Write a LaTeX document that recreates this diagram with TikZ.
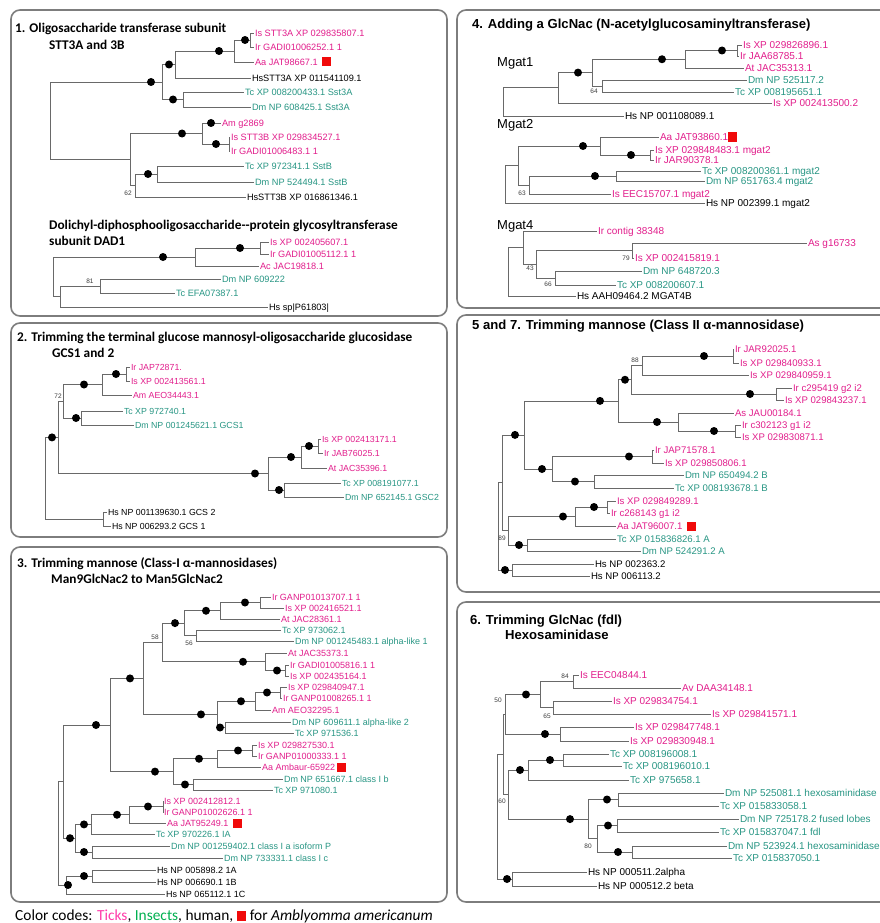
\documentclass[tikz,border=0pt]{standalone}
\usepackage{fontspec}
\setmainfont{Liberation Sans}
\newfontfamily\calib{Carlito}
\definecolor{tick}{RGB}{226,30,140}
\definecolor{insect}{RGB}{40,150,132}
\definecolor{brc}{RGB}{105,105,105}
\definecolor{panc}{RGB}{125,125,125}
\definecolor{sqred}{RGB}{240,10,10}
\definecolor{legpink}{RGB}{255,60,170}
\definecolor{leggreen}{RGB}{0,176,80}
\definecolor{bsc}{RGB}{60,60,60}
\newcommand\mylf[5]{\node[#1] (#2) at ({#3-1.5},#4) {#5};}
\newcommand\myed[2]{\draw[brl] (#1) |- (#2);}
\newcommand\mydt[2]{\fill[black] (#1,#2) circle (4pt);}
\newcommand\mycn[3]{\coordinate (#1) at (#2,#3);}
\tikzset{
 brl/.style={draw=brc, line width=0.8pt},
 lab/.style={anchor=west, inner sep=0pt, outer xsep=1.5pt, outer ysep=0pt, text height=6.6pt, text depth=0pt, font=\fontsize{9}{10}\selectfont},
 tk/.style={lab, text=tick},
 ins/.style={lab, text=insect},
 hum/.style={lab, text=black},
 bs/.style={inner sep=0pt, text=bsc, font=\fontsize{6.5}{7}\selectfont},
 panel/.style={draw=panc, line width=1.6pt, rounded corners=9pt},
 ttlA/.style={anchor=west, inner sep=0pt, text height=8.5pt, text depth=0pt, font=\calib\bfseries\fontsize{13.3}{15}\selectfont},
 ttlB/.style={anchor=west, inner sep=0pt, text height=9.2pt, text depth=0pt, font=\bfseries\fontsize{13.1}{15}\selectfont},
 mg/.style={anchor=west, inner sep=0pt, text height=9.2pt, text depth=0pt, font=\fontsize{13}{15}\selectfont},
 sq/.style={fill=sqred, minimum size=9pt, inner sep=0pt}
}
\begin{document}
\begin{tikzpicture}[x=1pt,y=-1pt]
\useasboundingbox (0,0) rectangle (880,923);
\clip (0,0) rectangle (880,923);
\fill[white] (0,0) rectangle (880,923);

% ================= Panel 1 =================
\draw[panel] (11,10) rectangle (447,316);
\node[ttlA] (t1a) at (15,28) {1. Oligosaccharide transferase subunit};
\node[ttlA] (t1b) at (49,45) {STT3A and 3B};
\begin{scope}[lab/.append style={font=\fontsize{9.2}{10}\selectfont}]
\mylf{tk}{L1a}{255}{33}{Is STT3A XP 029835807.1}
\mylf{tk}{L1b}{255}{47}{Ir GADI01006252.1 1}
\mylf{tk}{L1c}{255}{62}{Aa JAT98667.1}
\mylf{hum}{L1d}{252}{78}{HsSTT3A XP 011541109.1}
\mylf{ins}{L1e}{245}{92}{Tc XP 008200433.1 Sst3A}
\mylf{ins}{L1f}{252}{107}{Dm NP 608425.1 Sst3A}
\mylf{tk}{L1g}{222}{123}{Am g2869}
\mylf{tk}{L1h}{231}{137}{Is STT3B XP 029834527.1}
\mylf{tk}{L1i}{231}{151}{Ir GADI01006483.1 1}
\mylf{ins}{L1j}{245}{166}{Tc XP 972341.1 SstB}
\mylf{ins}{L1k}{255}{182}{Dm NP 524494.1 SstB}
\mylf{hum}{L1l}{247}{197}{HsSTT3B XP 016861346.1}
\end{scope}
\node[sq] (s1) at (326,62) {};
\mycn{n1a}{250}{40} \mycn{n1b}{234}{51} \mycn{n1c}{175}{64.5} \mycn{n1d}{183}{99.5}
\mycn{n1e}{162}{82} \mycn{n1f}{229}{144} \mycn{n1g}{202}{133.5} \mycn{n1h}{157}{174}
\mycn{n1i}{135}{185.5} \mycn{n1j}{130}{159.5} \mycn{r1}{50}{120.75}
\myed{n1a}{L1a} \myed{n1a}{L1b} \myed{n1b}{n1a} \myed{n1b}{L1c} \myed{n1c}{n1b} \myed{n1c}{L1d}
\myed{n1d}{L1e} \myed{n1d}{L1f} \myed{n1e}{n1c} \myed{n1e}{n1d} \myed{n1f}{L1h} \myed{n1f}{L1i}
\myed{n1g}{L1g} \myed{n1g}{n1f} \myed{n1h}{L1j} \myed{n1h}{L1k} \myed{n1i}{n1h} \myed{n1i}{L1l}
\myed{n1j}{n1g} \myed{n1j}{n1i} \myed{r1}{n1e} \myed{r1}{n1j}
\mydt{245}{40} \mydt{219}{51} \mydt{169}{64.5} \mydt{173}{99.5} \mydt{151}{82}
\mydt{216}{144} \mydt{182}{133.5} \mydt{211}{123} \mydt{148}{174}
\node[bs] (b62) at (128,193) {62};

\node[ttlA] (t1c) at (49,225) {Dolichyl-diphosphooligosaccharide-{}-protein glycosyltransferase};
\node[ttlA] (t1d) at (49,241) {subunit DAD1};
\begin{scope}[lab/.append style={font=\fontsize{9.2}{10}\selectfont}]
\mylf{tk}{L1m}{270}{242}{Is XP 002405607.1}
\mylf{tk}{L1n}{270}{254}{Ir GADI01005112.1 1}
\mylf{tk}{L1o}{260}{266}{Ac JAC19818.1}
\mylf{ins}{L1p}{222}{279}{Dm NP 609222}
\mylf{ins}{L1q}{176}{293}{Tc EFA07387.1}
\mylf{hum}{L1r}{269}{307}{Hs sp|P61803|}
\end{scope}
\mycn{n1k}{260}{248} \mycn{n1l}{195}{257} \mycn{n1m}{100}{286} \mycn{n1n}{60}{296.5} \mycn{r1b}{53}{276.75}
\myed{n1k}{L1m} \myed{n1k}{L1n} \myed{n1l}{n1k} \myed{n1l}{L1o} \myed{n1m}{L1p} \myed{n1m}{L1q}
\myed{n1n}{n1m} \myed{n1n}{L1r} \myed{r1b}{n1l} \myed{r1b}{n1n}
\mydt{240}{248} \mydt{163}{257}
\node[bs] (b81) at (90,281) {81};

% ================= Panel 2 =================
\draw[panel] (11,323) rectangle (447,537);
\node[ttlA] (t2a) at (17,337) {2. Trimming the terminal glucose mannosyl-oligosaccharide glucosidase};
\node[ttlA] (t2b) at (52,353) {GCS1 and 2};
\begin{scope}[lab/.append style={font=\fontsize{8.8}{10}\selectfont}]
\mylf{tk}{L2a}{131}{367}{Ir JAP72871.}
\mylf{tk}{L2b}{131}{381}{Is XP 002413561.1}
\mylf{tk}{L2c}{133}{395}{Am AEO34443.1}
\mylf{ins}{L2d}{124}{411}{Tc XP 972740.1}
\mylf{ins}{L2e}{135}{425}{Dm NP 001245621.1 GCS1}
\mylf{tk}{L2f}{322}{439}{Is XP 002413171.1}
\mylf{tk}{L2g}{324}{453}{Ir JAB76025.1}
\mylf{tk}{L2h}{328}{468}{At JAC35396.1}
\mylf{ins}{L2i}{342}{483}{Tc XP 008191077.1}
\mylf{ins}{L2j}{345}{497}{Dm NP 652145.1 GSC2}
\mylf{hum}{L2k}{108}{512}{Hs NP 001139630.1 GCS 2}
\mylf{hum}{L2l}{112}{526}{Hs NP 006293.2 GCS 1}
\end{scope}
\mycn{n2a}{126}{374} \mycn{n2b}{102}{384.5} \mycn{n2c}{81}{418} \mycn{n2d}{63}{401.25}
\mycn{n2e}{318}{446} \mycn{n2f}{301}{457} \mycn{n2g}{284}{490} \mycn{n2h}{268}{473.5}
\mycn{n2i}{58}{437.4} \mycn{n2j}{103}{519} \mycn{r2}{45}{478.2}
\myed{n2a}{L2a} \myed{n2a}{L2b} \myed{n2b}{n2a} \myed{n2b}{L2c} \myed{n2c}{L2d} \myed{n2c}{L2e}
\myed{n2d}{n2b} \myed{n2d}{n2c} \myed{n2e}{L2f} \myed{n2e}{L2g} \myed{n2f}{n2e} \myed{n2f}{L2h}
\myed{n2g}{L2i} \myed{n2g}{L2j} \myed{n2h}{n2f} \myed{n2h}{n2g} \myed{n2i}{n2d} \myed{n2i}{n2h}
\myed{n2j}{L2k} \myed{n2j}{L2l} \myed{r2}{n2i} \myed{r2}{n2j}
\mydt{116}{374} \mydt{84}{384.5} \mydt{76}{418} \mydt{309}{446} \mydt{291}{457}
\mydt{279}{490} \mydt{255}{473.5} \mydt{52}{437.4}
\node[bs] (b72) at (58,396) {72};

% ================= Panel 3 =================
\draw[panel] (11,547) rectangle (447,902);
\node[ttlA] (t3a) at (17,563) {3. Trimming mannose (Class-I α-mannosidases)};
\node[ttlA] (t3b) at (51,579) {Man9GlcNac2 to Man5GlcNac2};
\begin{scope}[lab/.append style={font=\fontsize{9}{10}\selectfont}]
\mylf{tk}{L3a}{272}{597}{Ir GANP01013707.1 1}
\mylf{tk}{L3b}{285}{608}{Is XP 002416521.1}
\mylf{tk}{L3c}{281}{619}{At JAC28361.1}
\mylf{ins}{L3d}{282}{630}{Tc XP 973062.1}
\mylf{ins}{L3e}{295}{641}{Dm NP 001245483.1 alpha-like 1}
\mylf{tk}{L3f}{288}{653}{At JAC35373.1}
\mylf{tk}{L3g}{290}{665}{Ir GADI01005816.1 1}
\mylf{tk}{L3h}{290}{676}{Is XP 002435164.1}
\mylf{tk}{L3i}{288}{687}{Is XP 029840947.1}
\mylf{tk}{L3j}{283}{698}{Ir GANP01008265.1 1}
\mylf{tk}{L3k}{272}{710}{Am AEO32295.1}
\mylf{ins}{L3l}{292}{722}{Dm NP 609611.1 alpha-like 2}
\mylf{ins}{L3m}{295}{733}{Tc XP 971536.1}
\mylf{tk}{L3n}{258}{745}{Is XP 029827530.1}
\mylf{tk}{L3o}{258}{756}{Ir GANP01000333.1 1}
\mylf{tk}{L3p}{262}{767}{Aa Ambaur-65922}
\mylf{ins}{L3q}{284}{779}{Dm NP 651667.1 class I b}
\mylf{ins}{L3r}{274}{790}{Tc XP 971080.1}
\mylf{tk}{L3s}{164}{801}{Is XP 002412812.1}
\mylf{tk}{L3t}{164}{812}{Ir GANP01002626.1 1}
\mylf{tk}{L3u}{167}{823}{Aa JAT95249.1}
\mylf{ins}{L3v}{156}{834}{Tc XP 970226.1 IA}
\mylf{ins}{L3w}{171}{846}{Dm NP 001259402.1 class I a isoform P}
\mylf{ins}{L3x}{224}{858}{Dm NP 733331.1 class I c}
\mylf{hum}{L3y}{157}{870}{Hs NP 005898.2 1A}
\mylf{hum}{L3z}{157}{882}{Hs NP 006690.1 1B}
\mylf{hum}{L3zz}{166}{894}{Hs NP 065112.1 1C}
\end{scope}
\node[sq] (s3a) at (341,767) {};
\node[sq] (s3b) at (237,823) {};
\mycn{n3a}{260}{602.5} \mycn{n3b}{220}{610.75} \mycn{n3c}{196}{635.5} \mycn{n3d}{184}{623.1}
\mycn{n3e}{285}{670.5} \mycn{n3f}{265}{661.75} \mycn{n3g}{162}{642.4} \mycn{n3h}{280}{692.5}
\mycn{n3i}{255}{701.25} \mycn{n3j}{225}{727.5} \mycn{n3k}{217}{714.4} \mycn{n3l}{143}{678.4}
\mycn{n3m}{252}{750.5} \mycn{n3n}{217}{758.75} \mycn{n3o}{193}{784.5} \mycn{n3p}{173}{771.6}
\mycn{n3q}{110}{725} \mycn{n3r}{163}{806.5} \mycn{n3s}{129}{814.75} \mycn{n3t}{91}{824.4}
\mycn{n3u}{92}{852} \mycn{n3v}{75}{838.2} \mycn{n3w}{63}{781.6} \mycn{n3x}{92}{876}
\mycn{n3y}{66}{885} \mycn{r3}{58}{833.3}
\myed{n3a}{L3a} \myed{n3a}{L3b} \myed{n3b}{n3a} \myed{n3b}{L3c} \myed{n3c}{L3d} \myed{n3c}{L3e}
\myed{n3d}{n3b} \myed{n3d}{n3c} \myed{n3e}{L3g} \myed{n3e}{L3h} \myed{n3f}{L3f} \myed{n3f}{n3e}
\myed{n3g}{n3d} \myed{n3g}{n3f} \myed{n3h}{L3i} \myed{n3h}{L3j} \myed{n3i}{n3h} \myed{n3i}{L3k}
\myed{n3j}{L3l} \myed{n3j}{L3m} \myed{n3k}{n3i} \myed{n3k}{n3j} \myed{n3l}{n3g} \myed{n3l}{n3k}
\myed{n3m}{L3n} \myed{n3m}{L3o} \myed{n3n}{n3m} \myed{n3n}{L3p} \myed{n3o}{L3q} \myed{n3o}{L3r}
\myed{n3p}{n3n} \myed{n3p}{n3o} \myed{n3q}{n3l} \myed{n3q}{n3p} \myed{n3r}{L3s} \myed{n3r}{L3t}
\myed{n3s}{n3r} \myed{n3s}{L3u} \myed{n3t}{n3s} \myed{n3t}{L3v} \myed{n3u}{L3w} \myed{n3u}{L3x}
\myed{n3v}{n3t} \myed{n3v}{n3u} \myed{n3w}{n3q} \myed{n3w}{n3v} \myed{n3x}{L3y} \myed{n3x}{L3z}
\myed{n3y}{n3x} \myed{n3y}{L3zz} \myed{r3}{n3w} \myed{r3}{n3y}
\mydt{245}{602.5} \mydt{206}{610.75} \mydt{175}{623.1} \mydt{277}{670.5} \mydt{243}{661.75}
\mydt{267}{692.5} \mydt{241}{701.25} \mydt{220}{727.5} \mydt{201}{714.4} \mydt{130}{678.4}
\mydt{238}{750.5} \mydt{199}{758.75} \mydt{185}{784.5} \mydt{155}{771.6} \mydt{96}{725}
\mydt{148}{806.5} \mydt{117}{814.75} \mydt{84}{824.4} \mydt{84}{852} \mydt{70}{838.2}
\mydt{84}{876} \mydt{68}{885}
\node[bs] (b56) at (189,643) {56};
\node[bs] (b58) at (155,637) {58};

% ================= Panel 4 =================
\draw[panel] (457,10) rectangle (900,308);
\node[ttlB] (t4) at (472,24) {4. Adding a GlcNac (N-acetylglucosaminyltransferase)};
\node[mg] (mg1) at (497,62) {Mgat1};
\node[mg] (mg2) at (497,124) {Mgat2};
\node[mg] (mg4) at (497,225) {Mgat4};
\begin{scope}[lab/.append style={font=\fontsize{10}{11}\selectfont}]
\mylf{tk}{L4a}{743}{45}{Is XP 029826896.1}
\mylf{tk}{L4b}{740}{56}{Ir JAA68785.1}
\mylf{tk}{L4c}{745}{68}{At JAC35313.1}
\mylf{ins}{L4d}{748}{80}{Dm NP 525117.2}
\mylf{ins}{L4e}{735}{92}{Tc XP 008195651.1}
\mylf{tk}{L4f}{773}{103}{Is XP 002413500.2}
\mylf{hum}{L4g}{625}{116}{Hs NP 001108089.1}
\mylf{tk}{L4h}{660}{137}{Aa JAT93860.1}
\mylf{tk}{L4i}{655}{150}{Is XP 029848483.1 mgat2}
\mylf{tk}{L4j}{655}{160}{Ir JAR90378.1}
\mylf{ins}{L4k}{702}{171}{Tc XP 008200361.1 mgat2}
\mylf{ins}{L4l}{706}{181}{Dm NP 651763.4 mgat2}
\mylf{tk}{L4m}{612}{194}{Is EEC15707.1 mgat2}
\mylf{hum}{L4n}{706}{203}{Hs NP 002399.1 mgat2}
\mylf{tk}{L4o}{598}{231}{Ir contig 38348}
\mylf{tk}{L4p}{808}{243}{As g16733}
\mylf{tk}{L4q}{635}{258}{Is XP 002415819.1}
\mylf{ins}{L4r}{643}{271}{Dm NP 648720.3}
\mylf{ins}{L4s}{617}{285}{Tc XP 008200607.1}
\mylf{hum}{L4t}{577}{296}{Hs AAH09464.2 MGAT4B}
\end{scope}
\node[sq] (s4) at (732,137) {};
\mycn{n4a}{737}{50.5} \mycn{n4b}{685}{59.25} \mycn{n4c}{602}{86} \mycn{n4d}{592}{72.6}
\mycn{n4e}{558}{87.8} \mycn{r4a}{503}{101.9}
\mycn{n4f}{650}{155} \mycn{n4g}{600}{146} \mycn{n4h}{616}{176} \mycn{n4i}{529}{185}
\mycn{n4j}{518}{165.5} \mycn{r4b}{505}{184.25}
\mycn{n4k}{632}{250.5} \mycn{n4l}{555}{278} \mycn{n4m}{536}{264.25} \mycn{n4n}{523}{247.6}
\mycn{r4c}{508}{271.8}
\myed{n4a}{L4a} \myed{n4a}{L4b} \myed{n4b}{n4a} \myed{n4b}{L4c} \myed{n4c}{L4d} \myed{n4c}{L4e}
\myed{n4d}{n4b} \myed{n4d}{n4c} \myed{n4e}{n4d} \myed{n4e}{L4f} \myed{r4a}{n4e} \myed{r4a}{L4g}
\myed{n4f}{L4i} \myed{n4f}{L4j} \myed{n4g}{L4h} \myed{n4g}{n4f} \myed{n4h}{L4k} \myed{n4h}{L4l}
\myed{n4i}{n4h} \myed{n4i}{L4m} \myed{n4j}{n4g} \myed{n4j}{n4i} \myed{r4b}{n4j} \myed{r4b}{L4n}
\myed{n4k}{L4p} \myed{n4k}{L4q} \myed{n4l}{L4r} \myed{n4l}{L4s} \myed{n4m}{n4k} \myed{n4m}{n4l}
\myed{n4n}{L4o} \myed{n4n}{n4m} \myed{r4c}{n4n} \myed{r4c}{L4t}
\mydt{722}{50.5} \mydt{662}{59.25} \mydt{578}{72.6} \mydt{631}{155} \mydt{583}{146} \mydt{595}{176}
\node[bs] (b64) at (594,91) {64};
\node[bs] (b63) at (522,193) {63};
\node[bs] (b79) at (626,258) {79};
\node[bs] (b66) at (548,284) {66};
\node[bs] (b43) at (530,268) {43};

% ================= Panel 5 =================
\draw[panel] (457,315) rectangle (900,592);
\node[ttlB] (t5) at (472,325) {5 and 7. Trimming mannose (Class II α-mannosidase)};
\begin{scope}[lab/.append style={font=\fontsize{9.6}{11}\selectfont}]
\mylf{tk}{L5a}{735}{349}{Ir JAR92025.1}
\mylf{tk}{L5b}{740}{363}{Is XP 029840933.1}
\mylf{tk}{L5c}{750}{375}{Is XP 029840959.1}
\mylf{tk}{L5d}{793}{388}{Ir c295419 g2 i2}
\mylf{tk}{L5e}{785}{400}{Is XP 029843237.1}
\mylf{tk}{L5f}{735}{413}{As JAU00184.1}
\mylf{tk}{L5g}{742}{425}{Ir c302123 g1 i2}
\mylf{tk}{L5h}{742}{437}{Is XP 029830871.1}
\mylf{tk}{L5i}{655}{450}{Ir JAP71578.1}
\mylf{tk}{L5j}{665}{463}{Is XP 029850806.1}
\mylf{ins}{L5k}{685}{475}{Dm NP 650494.2 B}
\mylf{ins}{L5l}{675}{488}{Tc XP 008193678.1 B}
\mylf{tk}{L5m}{617}{501}{Is XP 029849289.1}
\mylf{tk}{L5n}{611}{513}{Ir c268143 g1 i2}
\mylf{tk}{L5o}{617}{526}{Aa JAT96007.1}
\mylf{ins}{L5p}{617}{539}{Tc XP 015836826.1 A}
\mylf{ins}{L5q}{642}{551}{Dm NP 524291.2 A}
\mylf{hum}{L5r}{595}{564}{Hs NP 002363.2}
\mylf{hum}{L5s}{591}{576}{Hs NP 006113.2}
\end{scope}
\node[sq] (s5) at (691,526) {};
\mycn{n5a}{733}{356} \mycn{n5b}{642}{365.5} \mycn{n5c}{776}{394} \mycn{n5d}{631}{379.75}
\mycn{n5e}{735}{431} \mycn{n5f}{678}{422} \mycn{n5g}{618}{400.9} \mycn{n5h}{652}{456.5}
\mycn{n5i}{594}{481.5} \mycn{n5j}{552}{469} \mycn{n5k}{524}{434.9} \mycn{n5l}{607}{507}
\mycn{n5m}{575}{516.5} \mycn{n5n}{527}{545} \mycn{n5o}{508}{530.75} \mycn{n5p}{502}{482.8}
\mycn{n5q}{512}{570} \mycn{r5}{498}{526.4}
\myed{n5a}{L5a} \myed{n5a}{L5b} \myed{n5b}{n5a} \myed{n5b}{L5c} \myed{n5c}{L5d} \myed{n5c}{L5e}
\myed{n5d}{n5b} \myed{n5d}{n5c} \myed{n5e}{L5g} \myed{n5e}{L5h} \myed{n5f}{L5f} \myed{n5f}{n5e}
\myed{n5g}{n5d} \myed{n5g}{n5f} \myed{n5h}{L5i} \myed{n5h}{L5j} \myed{n5i}{L5k} \myed{n5i}{L5l}
\myed{n5j}{n5h} \myed{n5j}{n5i} \myed{n5k}{n5g} \myed{n5k}{n5j} \myed{n5l}{L5m} \myed{n5l}{L5n}
\myed{n5m}{n5l} \myed{n5m}{L5o} \myed{n5n}{L5p} \myed{n5n}{L5q} \myed{n5o}{n5m} \myed{n5o}{n5n}
\myed{n5p}{n5k} \myed{n5p}{n5o} \myed{n5q}{L5r} \myed{n5q}{L5s} \myed{r5}{n5p} \myed{r5}{n5q}
\mydt{704}{356} \mydt{750}{394} \mydt{625}{379.75} \mydt{714}{431} \mydt{657}{422}
\mydt{600}{400.9} \mydt{629}{456.5} \mydt{575}{481.5} \mydt{542}{469} \mydt{515}{434.9}
\mydt{594}{507} \mydt{563}{516.5} \mydt{519}{545} \mydt{505}{570}
\node[bs] (b88) at (635,360) {88};
\node[bs] (b89) at (502,538) {89};

% ================= Panel 6 =================
\draw[panel] (457,602) rectangle (900,902);
\node[ttlB] (t6a) at (470,620) {6. Trimming GlcNac (fdl)};
\node[ttlB] (t6b) at (505,635) {Hexosaminidase};
\begin{scope}[lab/.append style={font=\fontsize{10}{11}\selectfont}]
\mylf{tk}{L6a}{580}{675}{Is EEC04844.1}
\mylf{tk}{L6b}{682}{688}{Av DAA34148.1}
\mylf{tk}{L6c}{613}{701}{Is XP 029834754.1}
\mylf{tk}{L6d}{712}{714}{Is XP 029841571.1}
\mylf{tk}{L6e}{635}{727}{Is XP 029847748.1}
\mylf{tk}{L6f}{630}{741}{Is XP 029830948.1}
\mylf{ins}{L6g}{610}{754}{Tc XP 008196008.1}
\mylf{ins}{L6h}{623}{766}{Tc XP 008196010.1}
\mylf{ins}{L6i}{630}{780}{Tc XP 975658.1}
\mylf{ins}{L6j}{725}{793}{Dm NP 525081.1 hexosaminidase}
\mylf{ins}{L6k}{720}{806}{Tc XP 015833058.1}
\mylf{ins}{L6l}{740}{819}{Dm NP 725178.2 fused lobes}
\mylf{ins}{L6m}{720}{832}{Tc XP 015837047.1 fdl}
\mylf{ins}{L6n}{728}{846}{Dm NP 523924.1 hexosaminidase}
\mylf{ins}{L6o}{733}{858}{Tc XP 015837050.1}
\mylf{hum}{L6p}{588}{872}{Hs NP 000511.2alpha}
\mylf{hum}{L6q}{598}{886}{Hs NP 000512.2 beta}
\end{scope}
\mycn{n6a}{573}{681.5} \mycn{n6b}{553}{707.5} \mycn{n6c}{540}{694.5} \mycn{n6d}{560}{734}
\mycn{n6e}{505}{714.25} \mycn{n6f}{563}{760} \mycn{n6g}{528}{770} \mycn{n6h}{618}{799.5}
\mycn{n6i}{617}{825.5} \mycn{n6j}{632}{852} \mycn{n6k}{597}{838.75} \mycn{n6l}{588}{819.1}
\mycn{n6m}{508}{794.6} \mycn{n6n}{503}{754.4} \mycn{n6o}{512}{879} \mycn{r6}{497}{816.7}
\myed{n6a}{L6a} \myed{n6a}{L6b} \myed{n6b}{L6c} \myed{n6b}{L6d} \myed{n6c}{n6a} \myed{n6c}{n6b}
\myed{n6d}{L6e} \myed{n6d}{L6f} \myed{n6e}{n6c} \myed{n6e}{n6d} \myed{n6f}{L6g} \myed{n6f}{L6h}
\myed{n6g}{n6f} \myed{n6g}{L6i} \myed{n6h}{L6j} \myed{n6h}{L6k} \myed{n6i}{L6l} \myed{n6i}{L6m}
\myed{n6j}{L6n} \myed{n6j}{L6o} \myed{n6k}{n6i} \myed{n6k}{n6j} \myed{n6l}{n6h} \myed{n6l}{n6k}
\myed{n6m}{n6g} \myed{n6m}{n6l} \myed{n6n}{n6e} \myed{n6n}{n6m} \myed{n6o}{L6p} \myed{n6o}{L6q}
\myed{r6}{n6n} \myed{r6}{n6o}
\mydt{526}{694.5} \mydt{545}{734} \mydt{550}{760} \mydt{520}{770} \mydt{607}{799.5}
\mydt{608}{825.5} \mydt{618}{852} \mydt{570}{819.1} \mydt{507}{879}
\node[bs] (b84) at (565,676) {84};
\node[bs] (b65) at (547,716) {65};
\node[bs] (b50) at (498,700) {50};
\node[bs] (b80) at (588,846) {80};
\node[bs] (b60) at (502,801) {60};

% ================= Legend =================
\node[anchor=west, inner sep=0pt, font=\calib\fontsize{15.4}{17}\selectfont] (leg) at (15,916)
 {Color codes: \textcolor{legpink}{Ticks}, \textcolor{leggreen}{Insects}, human, \textcolor{sqred}{\rule[-0.5pt]{9.5pt}{10pt}} for \textit{Amblyomma americanum}};
\end{tikzpicture}
\end{document}
